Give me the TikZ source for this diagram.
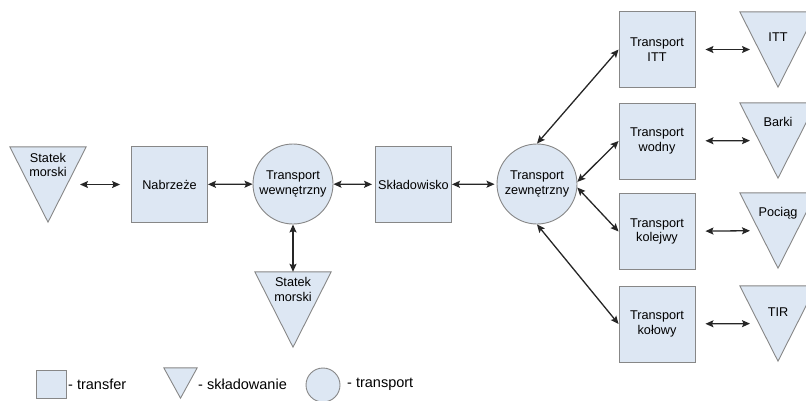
\documentclass[tikz,border=0pt]{standalone}
\usepackage{fontspec}
\setmainfont{Liberation Sans}
\usetikzlibrary{arrows.meta}
\definecolor{shfill}{RGB}{221,231,243}
\definecolor{shline}{RGB}{135,135,135}
\tikzset{
  shp/.style={draw=shline, fill=shfill, line width=0.9pt},
  box/.style={shp, minimum width=76pt, minimum height=76pt, inner sep=0pt, align=center},
  krg/.style={shp, circle, minimum size=80pt, inner sep=0pt, align=center},
  tribox/.style={minimum width=76pt, minimum height=75pt, inner sep=0pt},
  lbl/.style={align=center, inner sep=0pt},
  leg/.style={anchor=west, inner sep=0pt, font=\fontsize{14.5}{16}\selectfont},
  conn/.style={line width=1.3pt, draw=black!85, {Stealth[length=8pt,width=7pt,inset=1.5pt]}-{Stealth[length=8pt,width=7pt,inset=1.5pt]}},
}
\def\magazyn(#1,#2,#3,#4,#5){
  \node[tribox] (#1) at (#2,#3) {};
  \draw[shp] (#1.north west) -- (#1.north east) -- (#1.south) -- cycle;
  \node[lbl] (#1t) at (#2,#4) {#5};
}

\begin{document}
\begin{tikzpicture}[x=1pt, y=-1pt, font=\fontsize{12.7}{14.5}\selectfont]
\useasboundingbox (0,0) rectangle (806,400);
\magazyn(ss1,48,184.5,165,Statek\\morski)
\node[box] (nab) at (169.5,184.5) {Nabrzeże};
\node[krg] (tw) at (293,184) {Transport\\wewnętrzny};
\node[box] (skl) at (413.5,184.5) {Składowisko};
\node[krg] (tz) at (537,184) {Transport\\zewnętrzny};
\magazyn(ss2,293,309.5,289.5,Statek\\morski)
\node[box] (titt) at (657,49.5) {Transport\\ITT};
\node[box] (twod) at (657,141) {Transport\\wodny};
\node[box] (tkol) at (657,231.5) {Transport\\kolejwy};
\node[box] (tkolo) at (657,324) {Transport\\kołowy};
\magazyn(itt,778,49.5,37,ITT)
\magazyn(barki,778,140.5,122,Barki)
\magazyn(poc,778,230.5,213,Pociąg)
\magazyn(tir,778,323.5,312,TIR)
\draw[conn, shorten <=32pt, shorten >=11pt] (ss1.center) -- (nab);
\draw[conn] (nab) -- (tw);
\draw[conn, shorten >=3pt] (tw) -- (skl);
\draw[conn, shorten >=2pt] (skl) -- (tz);
\draw[conn] (tw.south) -- (ss2.north);
\draw[conn] (tz.north) -- (titt.west);
\draw[conn] (tz.3) -- (twod.west);
\draw[conn] (tz.-5) -- (tkol.west);
\draw[conn] (tz.south) -- (tkolo.west);
\draw[conn, shorten <=10pt, shorten >=28pt] (titt) -- (itt.center);
\draw[conn, shorten <=10pt, shorten >=28pt] (twod) -- (barki.center);
\draw[conn, shorten <=10pt, shorten >=28pt] (tkol) -- (poc.center);
\draw[conn, shorten <=10pt, shorten >=28pt] (tkolo) -- (tir.center);
\node[box, minimum width=30pt, minimum height=28pt] (lg1) at (51,384) {};
\node[leg] (lg1t) at (68,384) {- transfer};
\node[minimum width=33pt, minimum height=30pt, inner sep=0pt] (lg2) at (180.5,383) {};
\draw[shp] (lg2.north west) -- (lg2.north east) -- (lg2.south) -- cycle;
\node[leg] (lg2t) at (198,384) {- składowanie};
\node[krg, minimum size=34pt] (lg3) at (323,385) {};
\node[leg] (lg3t) at (347,384) {- transport};
\end{tikzpicture}
\end{document}
